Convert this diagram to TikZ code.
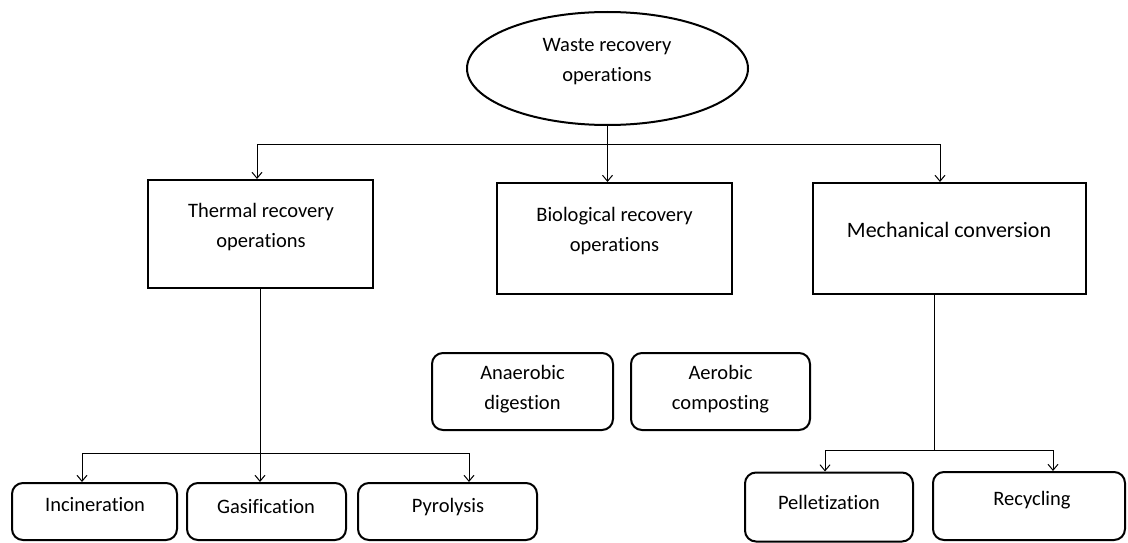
\documentclass[tikz,border=0pt]{standalone}
\usepackage{fontspec}
\setmainfont{Carlito}[Ligatures={NoCommon,NoContextual}]
\usetikzlibrary{arrows.meta,shapes.geometric,positioning}
\begin{document}
\begin{tikzpicture}[x=1pt,y=-1pt,
  lbl/.style={font=\fontsize{20.5}{29.5}\selectfont, align=center, inner sep=0pt},
  bigbox/.style={draw, line width=2pt, rectangle, inner sep=0pt},
  leaf/.style={draw, line width=2pt, rounded corners=11pt, rectangle, inner sep=0pt},
  conn/.style={line width=1pt},
  arr/.style={line width=1pt, -{Straight Barb[length=6pt,width=10pt,line width=1pt]}},
]
\useasboundingbox (0,0) rectangle (1128,543);

% root
\node (root) [draw, line width=2pt, ellipse, minimum width=281pt, minimum height=113pt, inner sep=0pt] at (607.5,68.5) {};
\node (root-t) [lbl] at (607,61.5) {Waste recovery\\operations};

% second level
\node (th) [bigbox, minimum width=225pt, minimum height=108pt] at (260.5,234) {};
\node (th-t) [lbl] at (261,227) {Thermal recovery\\operations};
\node (bio) [bigbox, minimum width=235pt, minimum height=111pt] at (614.5,238.5) {};
\node (bio-t) [lbl] at (614.5,231) {Biological recovery\\operations};
\node (mech) [bigbox, minimum width=273pt, minimum height=111pt] at (949.5,238.5) {};
\node (mech-t) [lbl, font=\fontsize{22}{29.5}\selectfont] at (949,230) {Mechanical conversion};

% biological processes
\node (ana) [leaf, minimum width=181pt, minimum height=77pt] at (522.5,391.5) {};
\node (ana-t) [lbl] at (522.5,389) {Anaerobic\\digestion};
\node (aer) [leaf, minimum width=179pt, minimum height=77pt] at (720.5,391.5) {};
\node (aer-t) [lbl] at (720.5,389) {Aerobic\\composting};

% thermal processes
\node (inc) [leaf, minimum width=165pt, minimum height=57pt] at (94.5,511.5) {};
\node (inc-t) [lbl] at (95,505) {Incineration};
\node (gas) [leaf, minimum width=159pt, minimum height=57pt] at (266.5,511.5) {};
\node (gas-t) [lbl] at (266,507) {Gasification};
\node (pyr) [leaf, minimum width=179pt, minimum height=57pt] at (447.5,511.5) {};
\node (pyr-t) [lbl] at (448,507) {Pyrolysis};

% mechanical processes
\node (pel) [leaf, minimum width=168pt, minimum height=69pt] at (829,507) {};
\node (pel-t) [lbl] at (829,502) {Pelletization};
\node (rec) [leaf, minimum width=192pt, minimum height=68pt] at (1029,506) {};
\node (rec-t) [lbl] at (1032,500) {Recycling};

% connectors from the root
\coordinate (busL) at (257,144);
\coordinate (busR) at (940,144);
\draw[conn] (busL) -- (busR);
\draw[conn] (root.south) -- (root.south |- busL);
\draw[arr] (busL) -- (busL |- th.north);
\draw[arr] (root.south |- busL) -- (root.south |- bio.north);
\draw[arr] (busR) -- (busR |- mech.north);

% thermal branch
\coordinate (tbus) at (260,453);
\coordinate (tbusL) at (82,453);
\coordinate (tbusR) at (469,453);
\draw[conn] (th.south -| tbus) -- (tbus);
\draw[conn] (tbusL) -- (tbusR);
\draw[arr] (tbusL) -- (tbusL |- inc.north);
\draw[arr] (tbus) -- (tbus |- gas.north);
\draw[arr] (tbusR) -- (tbusR |- pyr.north);

% mechanical branch
\coordinate (mbus) at (934,450);
\coordinate (mbusL) at (825,450);
\coordinate (mbusR) at (1053,450);
\draw[conn] (mech.south -| mbus) -- (mbus);
\draw[conn] (mbusL) -- (mbusR);
\draw[arr] (mbusL) -- (mbusL |- pel.north);
\draw[arr] (mbusR) -- (mbusR |- rec.north);
\end{tikzpicture}
\end{document}
